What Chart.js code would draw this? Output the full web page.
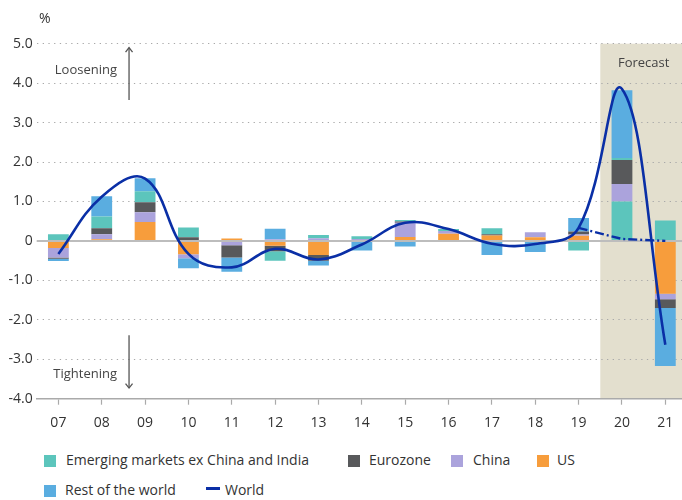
<!DOCTYPE html>
<html>
<head>
<meta charset="utf-8">
<script src="https://cdn.jsdelivr.net/npm/chart.js@4"></script>
<style>
  html, body { margin:0; padding:0; background:#fff; }
  body { width:682px; height:500px; overflow:hidden; position:relative; font-family:'Open Sans', sans-serif; color:#333; }
  #wrap { position:absolute; left:0; top:0; width:687px; height:440px; }
  #pct { position:absolute; left:39px; top:8px; font-size:14px; color:#333; }
  .lg { position:absolute; font-size:14px; color:#333; white-space:nowrap; line-height:18px; }
  .sw { position:absolute; width:12px; height:12px; }
  .ln { position:absolute; width:14px; height:3px; }
</style>
</head>
<body>
<div id="wrap"><canvas id="c" width="687" height="440"></canvas></div>
<div id="pct">%</div>
<div id="legend"></div>
<script>
// ---- data ----
const categories = ['07','08','09','10','11','12','13','14','15','16','17','18','19','20','21'];
const usValues        = [-0.18, 0.04, 0.48, -0.34, 0.06, -0.12, -0.36, 0.00, 0.10, 0.18, 0.14, 0.09, 0.13, 0.00, -1.34];
const chinaValues     = [-0.24, 0.13, 0.25, -0.10, -0.11, 0.04, 0.07, 0.05, 0.36, 0.07, 0.00, 0.13, 0.03, 0.44, -0.14];
const eurozoneValues  = [-0.03, 0.15, 0.25, 0.09, -0.31, -0.14, -0.14, 0.00, 0.03, 0.00, 0.03, 0.00, 0.08, 0.61, -0.22];
const emValues        = [0.17, 0.30, 0.28, 0.25, 0.00, -0.24, 0.08, 0.07, 0.04, 0.05, 0.15, -0.03, -0.24, 0.05, 0.52];
const emLowerSegment  = [0, 0, 0, 0, 0, 0, 0, 0, 0, 0, 0, 0, 0, 1.00, 0];
const restOfWorldValues = [-0.06, 0.51, 0.33, -0.25, -0.36, 0.27, -0.12, -0.24, -0.14, 0.00, -0.36, -0.25, 0.34, 1.72, -1.47];
const worldValues     = [-0.33, 1.12, 1.58, -0.33, -0.67, -0.20, -0.47, -0.09, 0.46, 0.30, -0.07, -0.08, 0.33, 3.85, -2.63];
const worldAltValues  = [null, null, null, null, null, null, null, null, null, null, null, null, 0.33, 0.05, 0.00];
const yMin = -4, yMax = 5;
const forecastFrom = '20';

// ---- styles ----
const COLORS = { em:'#5cc5bc', euro:'#58595b', china:'#aba3dc', us:'#f79d3c', row:'#5aade0', world:'#0a2fa6' };
Chart.defaults.font.family = "'Open Sans', sans-serif";
Chart.defaults.color = '#333';

function bar(label, data, color){
  return { type:'bar', label, data, backgroundColor:color, borderWidth:0, order:1,
           barPercentage:0.48, categoryPercentage:1.0 };
}

const datasets = [
  bar('EM lower', emLowerSegment, COLORS.em),
  bar('US', usValues, COLORS.us),
  bar('China', chinaValues, COLORS.china),
  bar('Eurozone', eurozoneValues, COLORS.euro),
  bar('Emerging markets ex China and India', emValues, COLORS.em),
  bar('Rest of the world', restOfWorldValues, COLORS.row),
  { type:'line', label:'World', data:worldValues, borderColor:COLORS.world, borderWidth:2.6,
    pointRadius:0, tension:0.4, order:0, stack:'world', fill:false },
  { type:'line', label:'World alt', data:worldAltValues, borderColor:COLORS.world, borderWidth:2.4,
    borderDash:[9,3,2,3], pointRadius:0, tension:0, order:0, stack:'worldAlt', fill:false, spanGaps:false }
];

const bgPlugin = {
  id:'bg',
  beforeDraw(chart){
    const {ctx, chartArea:a, scales:{x, y}} = chart;
    const i = categories.indexOf(forecastFrom);
    const x0 = (x.getPixelForValue(i-1) + x.getPixelForValue(i)) / 2;
    ctx.save();
    ctx.fillStyle = '#e3dfce';
    ctx.fillRect(x0, a.top, a.right - x0, a.bottom - a.top);
    ctx.fillStyle = '#444';
    ctx.font = "13px 'Open Sans', sans-serif";
    ctx.textAlign = 'center';
    ctx.textBaseline = 'middle';
    ctx.fillText('Forecast', (x0 + a.right) / 2, y.getPixelForValue(4.5));
    ctx.restore();
  }
};

let zeroDrawn = false;
const zeroPlugin = {
  id:'zero',
  beforeDatasetsDraw(){ zeroDrawn = false; },
  beforeDatasetDraw(chart, args){
    if (zeroDrawn || args.meta.type !== 'line') return;
    zeroDrawn = true;
    const {ctx, chartArea:a, scales:{y}} = chart;
    const yy = y.getPixelForValue(0);
    ctx.save();
    ctx.strokeStyle = '#bdbdbd';
    ctx.lineWidth = 2;
    ctx.beginPath(); ctx.moveTo(a.left, yy); ctx.lineTo(a.right, yy); ctx.stroke();
    ctx.restore();
  }
};

function arrow(ctx, x, y1, y2){
  ctx.beginPath(); ctx.moveTo(x, y1); ctx.lineTo(x, y2); ctx.stroke();
  const d = y2 < y1 ? 1 : -1;
  ctx.beginPath(); ctx.moveTo(x - 3.5, y2 + d*4.5); ctx.lineTo(x, y2); ctx.lineTo(x + 3.5, y2 + d*4.5); ctx.stroke();
}

const notePlugin = {
  id:'notes',
  afterDatasetsDraw(chart){
    const {ctx, scales:{x, y}} = chart;
    const ax = x.getPixelForValue(1.63);
    ctx.save();
    ctx.strokeStyle = '#555'; ctx.lineWidth = 1.3;
    arrow(ctx, ax, y.getPixelForValue(3.57), y.getPixelForValue(4.9));
    arrow(ctx, ax, y.getPixelForValue(-2.39), y.getPixelForValue(-3.73));
    ctx.fillStyle = '#444';
    ctx.font = "13px 'Open Sans', sans-serif";
    ctx.textAlign = 'right'; ctx.textBaseline = 'middle';
    ctx.fillText('Loosening', ax - 12, y.getPixelForValue(4.33));
    ctx.fillText('Tightening', ax - 12, y.getPixelForValue(-3.38));
    ctx.restore();
  }
};

new Chart(document.getElementById('c'), {
  data:{ labels:categories, datasets },
  plugins:[bgPlugin, zeroPlugin, notePlugin],
  options:{
    responsive:false, animation:false, devicePixelRatio:1,
    layout:{ padding:{ top:43.7, left:0, right:0, bottom:0 } },
    plugins:{ legend:{ display:false }, tooltip:{ enabled:false } },
    scales:{
      x:{
        stacked:true, offset:true,
        grid:{ display:true, drawOnChartArea:false, drawTicks:true, tickLength:6, offset:false, tickColor:'#aaa', tickWidth:1.2 },
        border:{ display:true, color:'#aaa', width:1.5 },
        ticks:{ font:{ size:14 }, color:'#333', padding:10, maxRotation:0, autoSkip:false },
        afterFit(s){ s.height = 440 - 398.7; }
      },
      y:{
        stacked:true, min:yMin, max:yMax,
        grid:{ drawTicks:false, lineWidth:1,
               color:(c) => (c.tick && (c.tick.value === 0 || c.tick.value === yMin)) ? 'rgba(0,0,0,0)' : '#a9a9a9' },
        border:{ display:false, dash:[1.3,4.4] },
        ticks:{ stepSize:1, font:{ size:14 }, color:'#333', padding:4,
                callback:(v) => v === 0 ? '0' : Number(v).toFixed(1) },
        afterFit(s){ s.width = 36.7; }
      }
    }
  }
});

// ---- HTML legend ----
const legendItems = [
  { label:'Emerging markets ex China and India', color:COLORS.em, kind:'box', left:44, row:0, textLeft:66 },
  { label:'Eurozone', color:COLORS.euro, kind:'box', left:348, row:0, textLeft:369 },
  { label:'China', color:COLORS.china, kind:'box', left:451, row:0, textLeft:473 },
  { label:'US', color:COLORS.us, kind:'box', left:537, row:0, textLeft:557 },
  { label:'Rest of the world', color:COLORS.row, kind:'box', left:44, row:1, textLeft:65 },
  { label:'World', color:COLORS.world, kind:'line', left:206, row:1, textLeft:225 }
];
const rowCenters = [460.5, 490.5];
const lg = document.getElementById('legend');
legendItems.forEach(it => {
  const cy = rowCenters[it.row];
  const m = document.createElement('div');
  if (it.kind === 'box') { m.className = 'sw'; m.style.left = it.left + 'px'; m.style.top = (cy - 6) + 'px'; }
  else { m.className = 'ln'; m.style.left = it.left + 'px'; m.style.top = (cy - 3.5) + 'px'; }
  m.style.background = it.color;
  lg.appendChild(m);
  const t = document.createElement('div');
  t.className = 'lg'; t.textContent = it.label;
  t.style.left = it.textLeft + 'px'; t.style.top = (cy - 10) + 'px';
  lg.appendChild(t);
});
</script>
</body>
</html>
